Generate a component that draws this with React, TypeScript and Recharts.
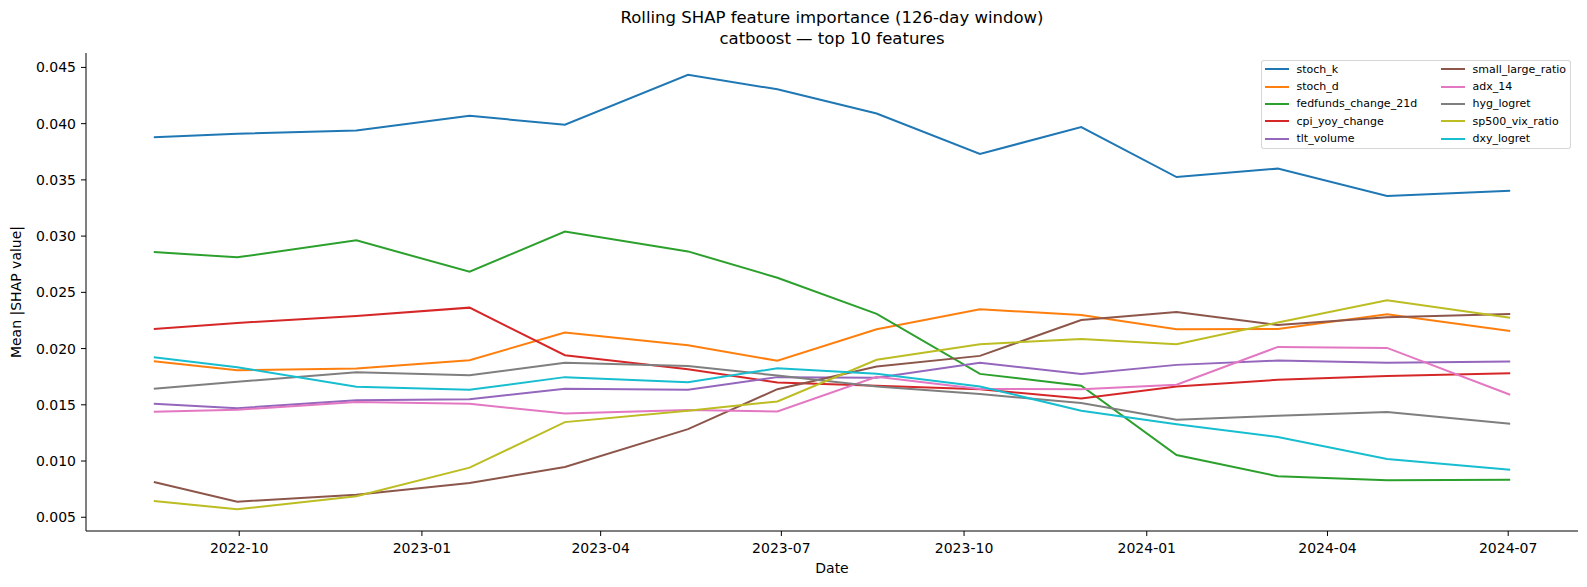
import { LineChart, Line, XAxis, YAxis } from "recharts";

// sample dates (end of each rolling window)
const dates = [
  "2022-08-19", "2022-09-30", "2022-11-29", "2023-01-25", "2023-03-14",
  "2023-05-15", "2023-06-29", "2023-08-18", "2023-10-09", "2023-11-29",
  "2024-01-16", "2024-03-07", "2024-05-01", "2024-07-02",
];

const stochK = [0.0388, 0.0391, 0.0394, 0.0407, 0.0399, 0.04435, 0.04305, 0.0409, 0.0373, 0.0397, 0.03525, 0.0360, 0.03356, 0.03403];
const stochD = [0.01888, 0.01808, 0.01822, 0.01896, 0.02143, 0.0203, 0.01891, 0.02172, 0.02349, 0.02299, 0.02172, 0.02175, 0.02305, 0.02157];
const fedfunds = [0.02858, 0.02811, 0.02962, 0.02683, 0.03041, 0.02864, 0.0263, 0.02308, 0.01775, 0.01669, 0.01053, 0.00864, 0.00828, 0.00834];
const cpiYoy = [0.02175, 0.02228, 0.0229, 0.02364, 0.01941, 0.01817, 0.01698, 0.01669, 0.01639, 0.01556, 0.01663, 0.01722, 0.01757, 0.01781];
const tltVolume = [0.01509, 0.0147, 0.01541, 0.0155, 0.01642, 0.01633, 0.01746, 0.0174, 0.01873, 0.01775, 0.01855, 0.01893, 0.01873, 0.01885];
const smallLarge = [0.00814, 0.00639, 0.0070, 0.00805, 0.00947, 0.01284, 0.01639, 0.0184, 0.01935, 0.02254, 0.02325, 0.0221, 0.02278, 0.02308];
const adx14 = [0.01438, 0.01456, 0.01524, 0.01509, 0.01423, 0.01453, 0.01441, 0.0175, 0.0164, 0.01639, 0.01678, 0.02015, 0.02006, 0.01589];
const hygLogret = [0.01642, 0.01704, 0.0179, 0.01763, 0.01873, 0.01846, 0.0176, 0.01663, 0.01595, 0.01515, 0.01367, 0.01402, 0.01435, 0.01331];
const sp500Vix = [0.00645, 0.00571, 0.00686, 0.00941, 0.01346, 0.01447, 0.0153, 0.019, 0.02038, 0.02086, 0.02038, 0.02231, 0.02429, 0.02275];
const dxyLogret = [0.01923, 0.01834, 0.0166, 0.01633, 0.01746, 0.01701, 0.01825, 0.01775, 0.01663, 0.01447, 0.01328, 0.01213, 0.01018, 0.00923];

const xTickLabels = ["2022-10", "2023-01", "2023-04", "2023-07", "2023-10", "2024-01", "2024-04", "2024-07"];
const yTicks = [0.005, 0.01, 0.015, 0.02, 0.025, 0.03, 0.035, 0.04, 0.045];

const series = [
  { key: "stoch_k", values: stochK, color: "#1f77b4" },
  { key: "stoch_d", values: stochD, color: "#ff7f0e" },
  { key: "fedfunds_change_21d", values: fedfunds, color: "#2ca02c" },
  { key: "cpi_yoy_change", values: cpiYoy, color: "#d62728" },
  { key: "tlt_volume", values: tltVolume, color: "#9467bd" },
  { key: "small_large_ratio", values: smallLarge, color: "#8c564b" },
  { key: "adx_14", values: adx14, color: "#e377c2" },
  { key: "hyg_logret", values: hygLogret, color: "#7f7f7f" },
  { key: "sp500_vix_ratio", values: sp500Vix, color: "#bcbd22" },
  { key: "dxy_logret", values: dxyLogret, color: "#17becf" },
];

const toTime = (s: string) => Date.parse(s + "T00:00:00Z");

const data = dates.map((d, i) => {
  const row: Record<string, number> = { t: toTime(d) };
  series.forEach((s) => (row[s.key] = s.values[i]));
  return row;
});

const xTicks = xTickLabels.map((m) => toTime(m + "-01"));

// matplotlib-like 5% autoscale margins
const tMin = toTime(dates[0]);
const tMax = toTime(dates[dates.length - 1]);
const tPad = (tMax - tMin) * 0.05;
const allVals = series.flatMap((s) => s.values);
const vMin = Math.min(...allVals);
const vMax = Math.max(...allVals);
const vPad = (vMax - vMin) * 0.05;

const fmtMonth = (t: number) => {
  const d = new Date(t);
  return `${d.getUTCFullYear()}-${String(d.getUTCMonth() + 1).padStart(2, "0")}`;
};

const FONT = "'DejaVu Sans', sans-serif";
const W = 1571;
const H = 571;

const App = () => {
  return (
    <div style={{ position: "relative", width: W, height: H, fontFamily: FONT, color: "#000" }}>
      <LineChart width={W} height={H} data={data} margin={{ top: 45, right: 1, bottom: 0, left: 0 }}>
        <XAxis
          dataKey="t"
          type="number"
          scale="time"
          domain={[tMin - tPad, tMax + tPad]}
          ticks={xTicks}
          tickFormatter={fmtMonth}
          interval={0}
          height={48}
          tickSize={5}
          tickMargin={7}
          stroke="#000"
          tick={{ fill: "#000", fontSize: 14, fontFamily: FONT }}
        />
        <YAxis
          type="number"
          domain={[vMin - vPad, vMax + vPad]}
          ticks={yTicks}
          tickFormatter={(v: number) => v.toFixed(3)}
          interval={0}
          width={78}
          tickSize={5}
          tickMargin={5}
          stroke="#000"
          tick={{ fill: "#000", fontSize: 14, fontFamily: FONT }}
        />
        {series.map((s) => (
          <Line
            key={s.key}
            dataKey={s.key}
            type="linear"
            stroke={s.color}
            strokeWidth={2}
            dot={false}
            activeDot={false}
            isAnimationActive={false}
          />
        ))}
      </LineChart>

      {/* title */}
      <div style={{ position: "absolute", left: 78, width: 1492, top: 0, height: 20, lineHeight: "20px", textAlign: "center", fontSize: 16.5 }}>
        Rolling SHAP feature importance (126-day window)
      </div>
      <div style={{ position: "absolute", left: 78, width: 1492, top: 21, height: 20, lineHeight: "20px", textAlign: "center", fontSize: 16.5 }}>
        catboost — top 10 features
      </div>

      {/* axis labels */}
      <div style={{ position: "absolute", left: 8 - 150, top: 284 - 10, width: 300, height: 20, lineHeight: "20px", textAlign: "center", fontSize: 14, transform: "rotate(-90deg)" }}>
        Mean |SHAP value|
      </div>
      <div style={{ position: "absolute", left: 78, width: 1492, top: 550, height: 20, lineHeight: "20px", textAlign: "center", fontSize: 14 }}>
        Date
      </div>

      {/* legend */}
      <div
        style={{
          position: "absolute",
          left: 1253,
          top: 52,
          width: 310,
          height: 89,
          boxSizing: "border-box",
          border: "1px solid rgba(204,204,204,0.8)",
          borderRadius: 3,
          background: "rgba(255,255,255,0.8)",
          fontSize: 11,
        }}
      >
        {series.map((s, i) => {
          const col = Math.floor(i / 5);
          const row = i % 5;
          return (
            <div
              key={s.key}
              style={{
                position: "absolute",
                left: 2.5 + col * 176,
                top: 8.3 + row * 17.3 - 8,
                height: 16,
                display: "flex",
                alignItems: "center",
                whiteSpace: "nowrap",
              }}
            >
              <span style={{ display: "inline-block", width: 24, height: 2, background: s.color, marginRight: 8 }} />
              <span>{s.key}</span>
            </div>
          );
        })}
      </div>
    </div>
  );
};

export default App;
